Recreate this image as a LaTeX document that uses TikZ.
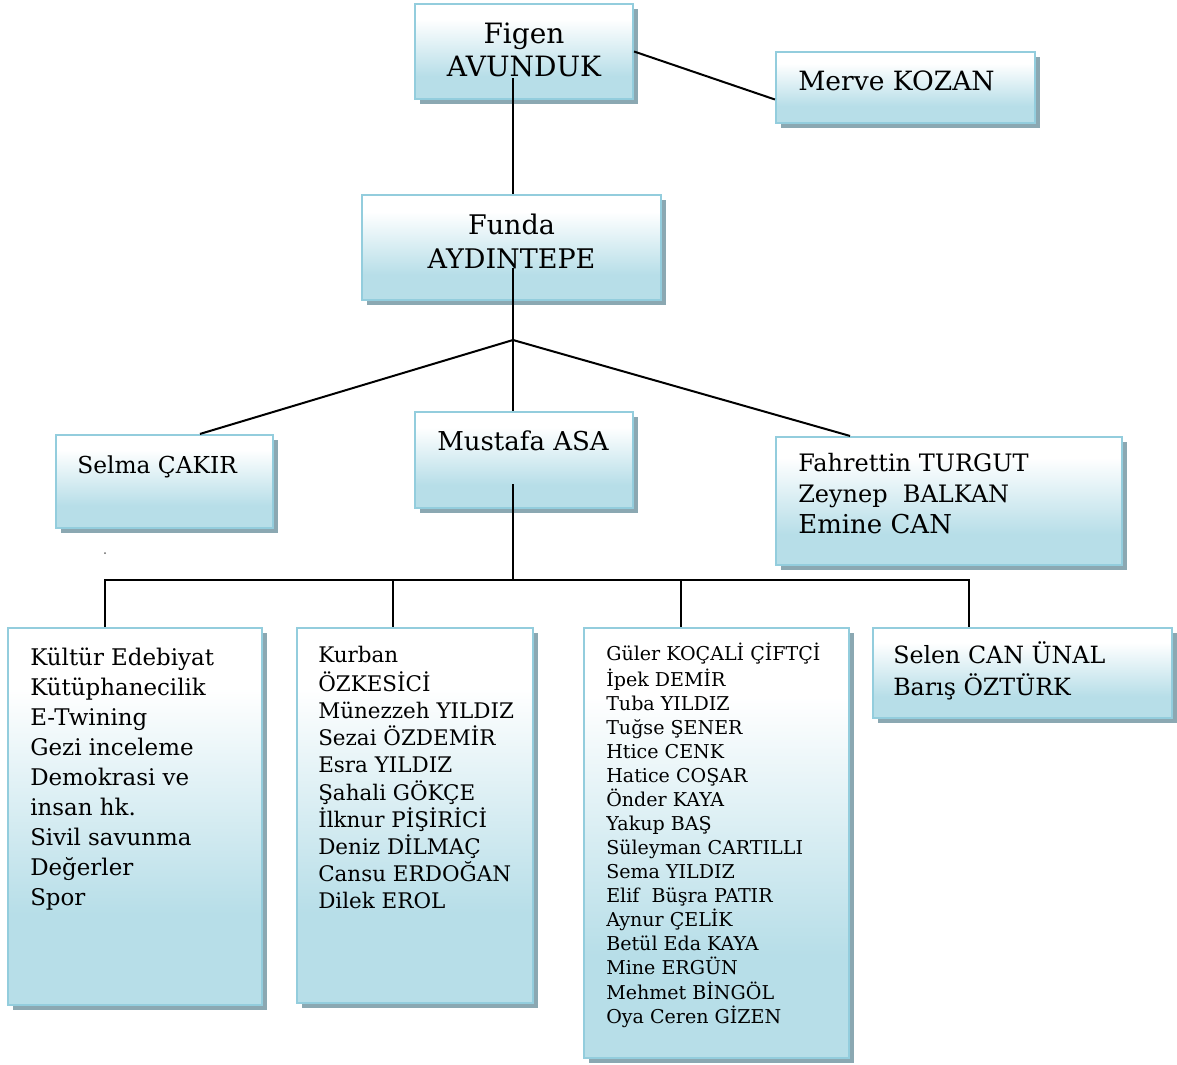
\documentclass[tikz,border=0pt]{standalone}
\usepackage{fontspec}
\setmainfont{DejaVu Serif}
\usetikzlibrary{shadows,fit,calc}
\definecolor{boxblue}{RGB}{183,222,232}
\definecolor{boxborder}{RGB}{147,205,221}
\definecolor{shadowc}{RGB}{139,168,178}
\pgfdeclareverticalshading{boxgrad}{100bp}{color(0bp)=(boxblue); color(37bp)=(boxblue); color(67bp)=(white); color(100bp)=(white)}
\newcommand\myfs[2]{\fontsize{#1}{#2}\selectfont}
\tikzset{
 box/.style={draw=boxborder, line width=1.6pt, shade, shading=boxgrad,
   drop shadow={shadow xshift=3.5pt, shadow yshift=-3.5pt, fill=shadowc, opacity=1},
   inner sep=0pt},
 txt/.style={anchor=north west, inner sep=0pt, align=left},
 ctxt/.style={anchor=north, inner sep=0pt, align=center},
 conn/.style={line width=1.5pt, black},
}
\begin{document}
\begin{tikzpicture}[x=0.75pt,y=-0.75pt]
\useasboundingbox (0,0) rectangle (1177,1064);
% boxes
\node[box, fit={(415,4) (633,99)}] (figen) {};
\node[box, fit={(776,52) (1035,123)}] (merve) {};
\node[box, fit={(362,195) (661,300)}] (funda) {};
\node[box, fit={(56,435) (273,528)}] (selma) {};
\node[box, fit={(415,412) (633,508)}] (mustafa) {};
\node[box, fit={(776,437) (1122,565)}] (fahrettin) {};
\node[box, fit={(8,628) (262,1005)}] (kultur) {};
\node[box, fit={(297,628) (533,1003)}] (kurban) {};
\node[box, fit={(584,628) (849,1058)}] (guler) {};
\node[box, fit={(873,628) (1172,718)}] (selen) {};
% texts
\node[ctxt, font=\myfs{21}{24.75}] (tfigen) at (524,19.9) {\strut Figen\\AVUNDUK};
\node[txt, font=\myfs{19.9}{24.75}] (tmerve) at (798,66.9) {\strut Merve KOZAN};
\node[ctxt, font=\myfs{20.25}{25.5}] (tfunda) at (511.5,210.2) {\strut Funda\\AYDINTEPE};
\node[txt, font=\myfs{17.5}{22.5}] (tselma) at (77,452) {\strut Selma ÇAKIR};
\node[txt, font=\myfs{19.5}{24.75}] (tmustafa) at (437,426.9) {\strut Mustafa ASA};
\node[txt, font=\myfs{18}{23.25}] (tfahrettin) at (798,449.3) {\strut Fahrettin TURGUT\\Zeynep\ \ BALKAN\\{\myfs{19.5}{23.25}Emine CAN}};
\node[txt, font=\myfs{17.8}{23.25}] (tselen) at (893,641.3) {\strut Selen CAN ÜNAL\\Barış ÖZTÜRK};
\node[txt, font=\myfs{17.2}{22.5}] (tkultur) at (30,644) {\strut Kültür Edebiyat\\Kütüphanecilik\\E-Twining\\Gezi inceleme\\Demokrasi ve\\insan hk.\\Sivil savunma\\Değerler\\Spor};
\node[txt, font=\myfs{16.1}{20.35}] (tkurban) at (318,643) {\strut Kurban\\ÖZKESİCİ\\Münezzeh YILDIZ\\Sezai ÖZDEMİR\\Esra YILDIZ\\Şahali GÖKÇE\\İlknur PİŞİRİCİ\\Deniz DİLMAÇ\\Cansu ERDOĞAN\\Dilek EROL};
\node[txt, font=\myfs{14.3}{18.05}] (tguler) at (606,642.2) {\strut Güler KOÇALİ ÇİFTÇİ\\İpek DEMİR\\Tuba YILDIZ\\Tuğse ŞENER\\Htice CENK\\Hatice COŞAR\\Önder KAYA\\Yakup BAŞ\\Süleyman CARTILLI\\Sema YILDIZ\\Elif\ \ Büşra PATIR\\Aynur ÇELİK\\Betül Eda KAYA\\Mine ERGÜN\\Mehmet BİNGÖL\\Oya Ceren GİZEN};
% connector coordinates
\coordinate (f1) at (513,78);
\coordinate (fu1) at (513,268);
\coordinate (jn) at (513,340);
\coordinate (mu1) at (513,484);
\coordinate (bus) at (513,580);
\coordinate (b1) at (105,580);
\coordinate (b2) at (393,580);
\coordinate (b3) at (681,580);
\coordinate (b4) at (969,580);
% connectors
\draw[conn] (figen.east) -- ($(merve.west)+(0,12)$);
\draw[conn] (f1) -- (f1 |- funda.north);
\draw[conn] (fu1) -- (jn) -- (jn |- mustafa.north);
\draw[conn] (jn) -- (selma.north -| 200,0);
\draw[conn] (jn) -- (fahrettin.north -| 850,0);
\draw[conn] (mu1) -- (bus);
\draw[conn, line cap=rect] (b1) -- (b4);
\draw[conn] (b1) -- (b1 |- kultur.north);
\draw[conn] (b2) -- (b2 |- kurban.north);
\draw[conn] (b3) -- (b3 |- guler.north);
\draw[conn] (b4) -- (b4 |- selen.north);
\fill[black!60] (105,553) circle (1);
\end{tikzpicture}
\end{document}
